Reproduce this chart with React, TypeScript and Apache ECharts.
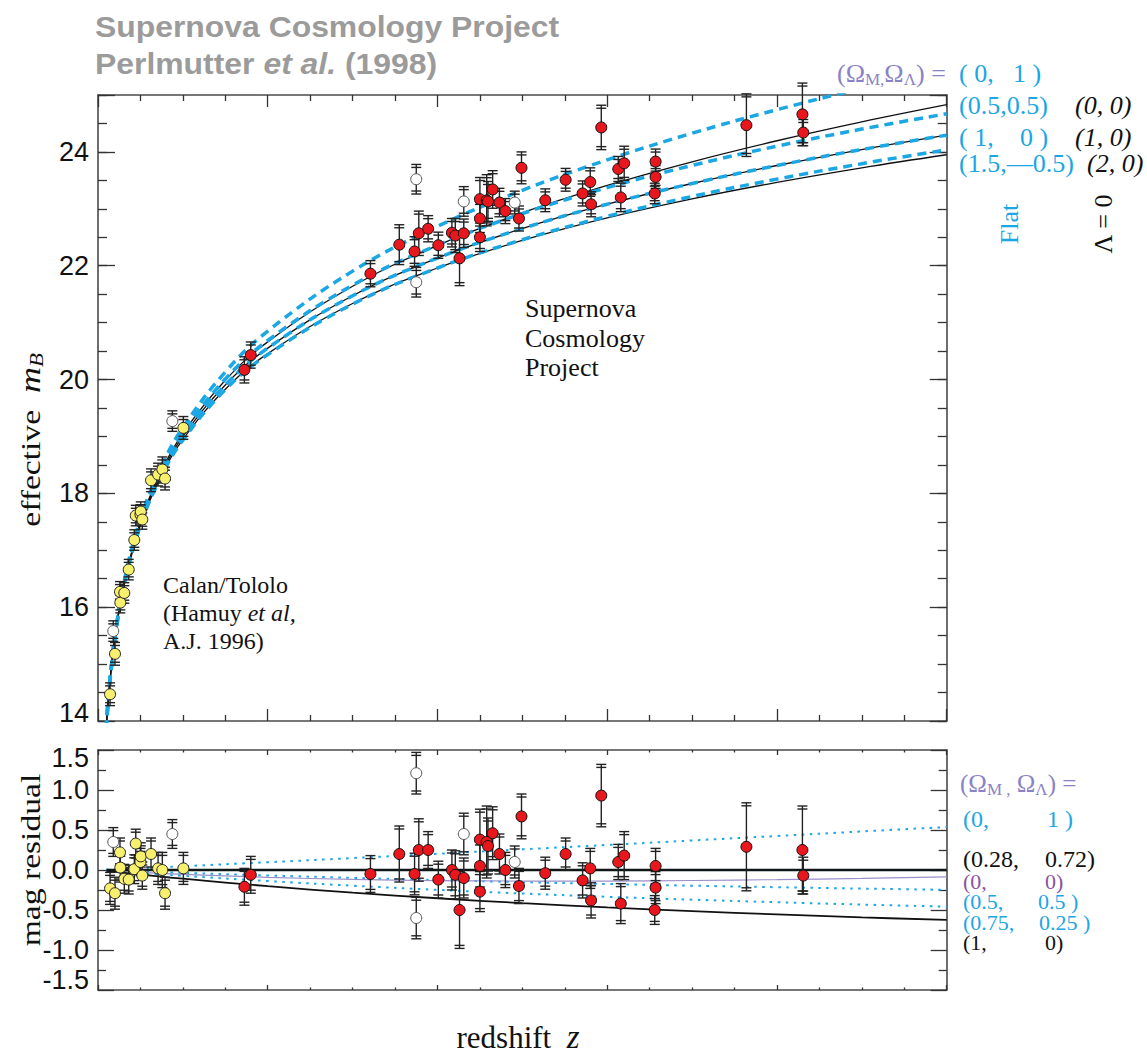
import React, { useEffect, useRef } from 'react';
import * as echarts from 'echarts';

// ---------- data: Calan/Tololo (yellow) ----------
const zCT = [0.0142, 0.0200, 0.0259, 0.0263, 0.0310, 0.0362, 0.0428, 0.0445, 0.0500, 0.0504, 0.0522, 0.0625, 0.0708, 0.0758, 0.0790, 0.1006];
const mCT = [14.47, 15.18, 16.27, 16.08, 16.25, 16.66, 17.18, 17.61, 17.63, 17.68, 17.54, 18.23, 18.33, 18.42, 18.26, 19.15];
const resCT = [-0.23, -0.29, 0.22, 0.03, -0.11, -0.12, 0.01, 0.33, 0.10, 0.17, -0.07, 0.20, 0.02, 0.00, -0.29, 0.02];
const errCT = [0.20, 0.20, 0.18, 0.18, 0.18, 0.18, 0.18, 0.18, 0.17, 0.17, 0.17, 0.20, 0.20, 0.22, 0.20, 0.20];

// excluded low-z (open)
const zCTopen = [0.0180, 0.0876];
const mCTopen = [15.58, 19.27];
const resCTopen = [0.35, 0.45];
const errCTopen = [0.18, 0.18];

// ---------- data: Supernova Cosmology Project (red) ----------
const zSCP = [0.1725, 0.180, 0.321, 0.355, 0.373, 0.378, 0.389, 0.401, 0.417, 0.421, 0.426, 0.431, 0.450, 0.450, 0.450, 0.458, 0.4595, 0.465, 0.473, 0.480, 0.496, 0.499, 0.527, 0.551, 0.571, 0.580, 0.581, 0.593, 0.613, 0.616, 0.620, 0.656, 0.657, 0.657, 0.764, 0.830, 0.831];
const mSCP = [20.17, 20.43, 21.86, 22.37, 22.25, 22.57, 22.65, 22.36, 22.58, 22.53, 22.13, 22.57, 23.17, 22.83, 22.50, 23.15, 23.13, 23.34, 23.11, 22.96, 22.83, 23.72, 23.15, 23.51, 23.27, 23.47, 23.08, 24.43, 23.70, 23.20, 23.80, 23.27, 23.56, 23.83, 24.47, 24.66, 24.34];
const resSCP = [-0.21, -0.06, -0.05, 0.20, -0.05, 0.25, 0.25, -0.12, 0.00, -0.06, -0.50, -0.10, 0.38, 0.05, -0.27, 0.35, 0.30, 0.46, 0.20, 0.00, -0.20, 0.67, -0.04, 0.20, -0.13, 0.02, -0.38, 0.93, 0.10, -0.42, 0.18, -0.50, -0.22, 0.05, 0.29, 0.25, -0.07];
const errSCP = [0.23, 0.23, 0.23, 0.35, 0.26, 0.39, 0.23, 0.23, 0.25, 0.30, 0.48, 0.25, 0.38, 0.30, 0.25, 0.45, 0.35, 0.33, 0.25, 0.22, 0.22, 0.28, 0.20, 0.20, 0.22, 0.25, 0.22, 0.39, 0.22, 0.25, 0.30, 0.18, 0.20, 0.22, 0.55, 0.55, 0.23];

// excluded high-z (open)
const zSCPopen = [0.375, 0.375, 0.431, 0.491];
const mSCPopen = [23.52, 21.71, 23.13, 23.11];
const resSCPopen = [1.21, -0.60, 0.45, 0.10];
const errSCPopen = [0.26, 0.26, 0.26, 0.20];

// ---------- model curves, top panel (effective m_B) ----------
const zModel = [0.0095, 0.012, 0.015, 0.02, 0.03, 0.05, 0.075, 0.1, 0.15, 0.2, 0.3, 0.4, 0.5, 0.6, 0.7, 0.8, 0.9, 1.0];
const m_0_0 = [13.849, 14.359, 14.846, 15.477, 16.368, 17.499, 18.405, 19.056, 19.987, 20.662, 21.639, 22.356, 22.929, 23.410, 23.827, 24.196, 24.528, 24.830];
const m_1_0 = [13.844, 14.352, 14.838, 15.466, 16.352, 17.471, 18.364, 19.001, 19.905, 20.552, 21.473, 22.135, 22.654, 23.081, 23.445, 23.761, 24.042, 24.294];
const m_2_0 = [13.839, 14.346, 14.830, 15.455, 16.336, 17.445, 18.325, 18.950, 19.830, 20.455, 21.336, 21.960, 22.445, 22.841, 23.175, 23.465, 23.721, 23.950];
const m_0_1 = [13.860, 14.372, 14.862, 15.498, 16.400, 17.551, 18.482, 19.157, 20.133, 20.851, 21.905, 22.691, 23.325, 23.861, 24.328, 24.742, 25.115, 25.455];
const m_05_05 = [13.852, 14.362, 14.850, 15.482, 16.376, 17.510, 18.420, 19.075, 20.009, 20.686, 21.658, 22.362, 22.916, 23.373, 23.762, 24.101, 24.401, 24.670];
const m_15_m05 = [13.837, 14.343, 14.826, 15.450, 16.329, 17.435, 18.313, 18.934, 19.821, 20.438, 21.325, 21.960, 22.457, 22.867, 23.217, 23.522, 23.793, 24.036];

// ---------- model curves, residual panel ----------
const zRes = [0.01, 0.05, 0.1, 0.2, 0.3, 0.4, 0.5, 0.6, 0.7, 0.8, 0.9, 1.0];
const r_0_1 = [0.005, 0.023, 0.047, 0.097, 0.149, 0.203, 0.258, 0.313, 0.369, 0.425, 0.482, 0.537];
const r_0_0 = [-0.006, -0.029, -0.054, -0.092, -0.117, -0.132, -0.138, -0.138, -0.131, -0.120, -0.105, -0.087];
const r_05_05 = [-0.004, -0.018, -0.035, -0.068, -0.098, -0.127, -0.152, -0.175, -0.196, -0.215, -0.232, -0.248];
const r_075_025 = [-0.008, -0.037, -0.073, -0.138, -0.196, -0.248, -0.294, -0.335, -0.371, -0.403, -0.432, -0.458];
const r_1_0 = [-0.012, -0.056, -0.109, -0.202, -0.283, -0.353, -0.414, -0.467, -0.514, -0.555, -0.592, -0.624];
const r_028_072 = [0, 0, 0, 0, 0, 0, 0, 0, 0, 0, 0, 0];

const SERIF = '"Liberation Serif", "Times New Roman", serif';
const SANS = '"Liberation Sans", Arial, sans-serif';
const BLUE = '#1ba6e4';
const LAV = '#8a82c6';
const PURP = '#8b52a6';
const RED = '#e8171d';
const YEL = '#f7ef6e';

const pairs = (xs: number[], ys: number[]) => xs.map((x, i) => [x, ys[i]]);
const triples = (xs: number[], ys: number[], es: number[]) => xs.map((x, i) => [x, ys[i], es[i]]);

function renderErr(params: any, api: any) {
  const z = api.value(0);
  const v = api.value(1);
  const e = api.value(2);
  const hi = api.coord([z, v + e]);
  const lo = api.coord([z, v - e]);
  const w = 5;
  const d = 3;
  const st = { stroke: '#222', lineWidth: 1.4 };
  const L = (x1: number, y1: number, x2: number, y2: number) => ({ type: 'line', shape: { x1, y1, x2, y2 }, style: st });
  return {
    type: 'group',
    children: [
      L(hi[0], hi[1], lo[0], lo[1]),
      L(hi[0] - w, hi[1], hi[0] + w, hi[1]),
      L(hi[0] - w, hi[1] + d, hi[0] + w, hi[1] + d),
      L(lo[0] - w, lo[1], lo[0] + w, lo[1]),
      L(lo[0] - w, lo[1] - d, lo[0] + w, lo[1] - d),
    ],
  };
}

const axisLineStyle = { color: '#4a4a4a', width: 1.6 };
const tickStyle = { color: '#333', width: 1.3 };

function xAxisDef(grid: number, position: string, major: number, minor: number) {
  return {
    type: 'value', gridIndex: grid, position, min: 0, max: 1, interval: 0.2,
    axisLine: { show: true, onZero: false, lineStyle: axisLineStyle },
    axisTick: { show: true, inside: true, length: major, lineStyle: tickStyle },
    minorTick: { show: true, splitNumber: 4, length: minor, lineStyle: tickStyle },
    axisLabel: { show: false },
    splitLine: { show: false },
    minorSplitLine: { show: false },
  };
}

const labelBase = { fontFamily: SANS, fontSize: 27, color: '#111' };

function yAxisDef(grid: number, position: string, min: number, max: number, interval: number, tickLen: number, opts: any) {
  return {
    type: 'value', gridIndex: grid, position, min, max, interval,
    axisLine: { show: opts.line, onZero: false, lineStyle: axisLineStyle },
    axisTick: { show: true, inside: true, length: tickLen, lineStyle: tickStyle },
    minorTick: opts.minor ? { show: true, splitNumber: opts.minor, length: opts.minorLen, lineStyle: tickStyle } : { show: false },
    axisLabel: opts.label ? opts.label : { show: false },
    splitLine: { show: false },
    minorSplitLine: { show: false },
  };
}

function lineS(xs: number[], ys: number[], color: string, width: number, type: any, xi: number, yi: number, z: number) {
  return {
    type: 'line', xAxisIndex: xi, yAxisIndex: yi, data: pairs(xs, ys),
    showSymbol: false, symbol: 'none', smooth: 0.4,
    lineStyle: { color, width, type }, z, silent: true, clip: true,
  };
}

function errS(data: number[][], xi: number, yi: number) {
  return {
    type: 'custom', xAxisIndex: xi, yAxisIndex: yi, data, renderItem: renderErr,
    encode: { x: 0, y: 1 }, z: 4, silent: true, clip: false,
  };
}

function dotS(data: number[][], fill: string, border: string, xi: number, yi: number) {
  return {
    type: 'scatter', xAxisIndex: xi, yAxisIndex: yi, data, symbol: 'circle', symbolSize: 11,
    itemStyle: { color: fill, borderColor: border, borderWidth: 1, opacity: 1 }, z: 5, silent: true,
  };
}

function txt(x: number, y: number, text: string, fill: string, size: number, extra: any = {}) {
  return {
    type: 'text', x, y, silent: true,
    style: { text, fill, fontFamily: SERIF, fontSize: size, verticalAlign: 'middle', align: 'left', ...extra },
  };
}

function omegaRich(size: number, color: string) {
  return {
    p: { fontFamily: SERIF, fontSize: size, fill: color, color },
    s: { fontFamily: SERIF, fontSize: Math.round(size * 0.66), fill: color, color, padding: [12, 0, 0, 0] },
  };
}

function buildOption() {
  const topLabel = {
    show: true, margin: 9, ...labelBase,
    formatter: (v: number) => (v === 14 ? '{lo|14}' : v > 24.5 ? '' : String(v)),
    rich: { lo: { ...labelBase, padding: [0, 0, 16, 0] } },
  };
  const botLabel = {
    show: true, margin: 9, ...labelBase, showMinLabel: true, showMaxLabel: true,
    formatter: (v: number) => {
      const s = (Math.abs(v) < 1e-9 ? 0 : v).toFixed(1);
      if (v > 1.49) return '{hi|' + s + '}';
      if (v < -1.49) return '{lo|' + s + '}';
      return s;
    },
    rich: { hi: { ...labelBase, padding: [16, 0, 0, 0] }, lo: { ...labelBase, padding: [0, 0, 20, 0] } },
  };

  const graphics: any[] = [
    {
      type: 'text', x: 95, y: 27, scaleX: 1.1, silent: true,
      style: { text: 'Supernova Cosmology Project', fontFamily: SANS, fontWeight: 'bold', fontSize: 29, fill: '#9b9b9b', verticalAlign: 'middle' },
    },
    {
      type: 'text', x: 95, y: 64, scaleX: 1.1, silent: true,
      style: {
        text: '{n|Perlmutter }{i|et al.}{n| (1998)}', verticalAlign: 'middle',
        rich: {
          n: { fontFamily: SANS, fontWeight: 'bold', fontSize: 29, fill: '#9b9b9b', color: '#9b9b9b' },
          i: { fontFamily: SANS, fontWeight: 'bold', fontStyle: 'italic', fontSize: 29, fill: '#9b9b9b', color: '#9b9b9b' },
        },
      },
    },
    // inner labels
    {
      type: 'text', x: 525, y: 294, silent: true,
      style: { text: 'Supernova\nCosmology\nProject', fontFamily: SERIF, fontSize: 26, lineHeight: 29.5, fill: '#111', verticalAlign: 'top' },
    },
    {
      type: 'text', x: 163, y: 571, silent: true,
      style: {
        text: '{n|Calan/Tololo}\n{n|(Hamuy }{i|et al,}\n{n|A.J. 1996)}', verticalAlign: 'top',
        rich: {
          n: { fontFamily: SERIF, fontSize: 24, lineHeight: 28, fill: '#111', color: '#111' },
          i: { fontFamily: SERIF, fontStyle: 'italic', fontSize: 24, lineHeight: 28, fill: '#111', color: '#111' },
        },
      },
    },
    // axis titles
    {
      type: 'text', x: 30, y: 440, rotation: Math.PI / 2, scaleX: 1.2, silent: true,
      style: {
        text: '{n|effective  }{m|m}{s|B}', align: 'center', verticalAlign: 'middle',
        rich: {
          n: { fontFamily: SERIF, fontSize: 28, fill: '#111', color: '#111' },
          m: { fontFamily: SERIF, fontStyle: 'italic', fontSize: 30, fill: '#111', color: '#111' },
          s: { fontFamily: SERIF, fontStyle: 'italic', fontSize: 19, fill: '#111', color: '#111', padding: [14, 0, 0, 0] },
        },
      },
    },
    {
      type: 'text', x: 30, y: 860, rotation: Math.PI / 2, scaleX: 1.2, silent: true,
      style: { text: 'mag residual', fontFamily: SERIF, fontSize: 28, fill: '#111', align: 'center', verticalAlign: 'middle' },
    },
    {
      type: 'text', x: 518, y: 1037, silent: true,
      style: {
        text: '{n|redshift  }{z|z}', align: 'center', verticalAlign: 'middle',
        rich: {
          n: { fontFamily: SERIF, fontSize: 31, fill: '#111', color: '#111' },
          z: { fontFamily: SERIF, fontStyle: 'italic', fontSize: 33, fill: '#111', color: '#111' },
        },
      },
    },
    // top legend
    txt(837, 73, '{p|(Ω}{s|M,}{p|Ω}{s|Λ}{p|) =}', LAV, 26, { rich: omegaRich(26, LAV) }),
    txt(959, 73, '( 0,', BLUE, 26),
    txt(1013, 73, '1 )', BLUE, 26),
    txt(959, 105, '(0.5,0.5)', BLUE, 26),
    txt(1075, 105, '(0, 0)', '#111', 26, { fontStyle: 'italic' }),
    txt(959, 137, '( 1,', BLUE, 26),
    txt(1020, 137, '0 )', BLUE, 26),
    txt(1075, 137, '(1, 0)', '#111', 26, { fontStyle: 'italic' }),
    txt(959, 163, '(1.5,—0.5)', BLUE, 26),
    txt(1087, 163, '(2, 0)', '#111', 26, { fontStyle: 'italic' }),
    {
      type: 'text', x: 1009, y: 224, rotation: Math.PI / 2, silent: true,
      style: { text: 'Flat', fontFamily: SERIF, fontSize: 26, fill: BLUE, align: 'center', verticalAlign: 'middle' },
    },
    {
      type: 'text', x: 1103, y: 224, rotation: Math.PI / 2, silent: true,
      style: { text: 'Λ = 0', fontFamily: SERIF, fontSize: 26, fill: '#111', align: 'center', verticalAlign: 'middle' },
    },
    // bottom legend
    txt(960, 783, '{p|(Ω}{s|M ,}{p| Ω}{s|Λ}{p|) =}', LAV, 25, { rich: omegaRich(25, LAV) }),
    txt(963, 819, '(0,', BLUE, 24),
    txt(1047, 819, '1 )', BLUE, 24),
    txt(963, 859, '(0.28,', '#111', 24),
    txt(1045, 859, '0.72)', '#111', 24),
    txt(963, 881, '(0,', PURP, 22),
    txt(1045, 881, '0)', PURP, 22),
    txt(963, 901.5, '(0.5,', BLUE, 22),
    txt(1038, 901.5, '0.5 )', BLUE, 22),
    txt(963, 922, '(0.75,', BLUE, 22),
    txt(1039, 922, '0.25 )', BLUE, 22),
    txt(963, 942.5, '(1,', '#111', 22),
    txt(1045, 942.5, '0)', '#111', 22),
  ];

  const dash = [9, 6];
  const dot = [2.5, 5.5];

  return {
    animation: false,
    backgroundColor: '#ffffff',
    grid: [
      { left: 98, top: 95, width: 848.7, height: 626, outerBoundsMode: 'none', containLabel: false },
      { left: 98, top: 750, width: 848.7, height: 240, outerBoundsMode: 'none', containLabel: false },
    ],
    xAxis: [
      xAxisDef(0, 'bottom', 12, 6),
      xAxisDef(0, 'top', 12, 6),
      xAxisDef(1, 'bottom', 5, 2.5),
      xAxisDef(1, 'top', 5, 2.5),
    ],
    yAxis: [
      yAxisDef(0, 'left', 14, 25, 2, 17, { line: true, label: topLabel }),
      yAxisDef(0, 'left', 14, 25, 0.5, 9, { line: false }),
      yAxisDef(0, 'right', 14, 25, 2, 17, { line: true }),
      yAxisDef(0, 'right', 14, 25, 0.5, 9, { line: false }),
      yAxisDef(1, 'left', -1.5, 1.5, 0.5, 16, { line: true, minor: 2, minorLen: 8, label: botLabel }),
      yAxisDef(1, 'right', -1.5, 1.5, 0.5, 16, { line: true, minor: 2, minorLen: 8 }),
    ],
    graphic: graphics,
    series: [
      // top panel models: Lambda = 0 (black) and flat (blue dashed)
      lineS(zModel, m_0_0, '#111', 1.3, 'solid', 0, 0, 2),
      lineS(zModel, m_1_0, '#111', 1.3, 'solid', 0, 0, 2),
      lineS(zModel, m_2_0, '#111', 1.3, 'solid', 0, 0, 2),
      lineS(zModel, m_0_1, BLUE, 3.5, dash, 0, 0, 3),
      lineS(zModel, m_05_05, BLUE, 3.5, dash, 0, 0, 3),
      lineS(zModel, m_1_0, BLUE, 3.5, dash, 0, 0, 3),
      lineS(zModel, m_15_m05, BLUE, 3.5, dash, 0, 0, 3),
      errS(triples(zCT, mCT, errCT), 0, 0),
      errS(triples(zCTopen, mCTopen, errCTopen), 0, 0),
      errS(triples(zSCP, mSCP, errSCP), 0, 0),
      errS(triples(zSCPopen, mSCPopen, errSCPopen), 0, 0),
      dotS(pairs(zCT, mCT), YEL, '#222', 0, 0),
      dotS(pairs(zCTopen, mCTopen), '#ffffff', '#555', 0, 0),
      dotS(pairs(zSCP, mSCP), RED, '#111', 0, 0),
      dotS(pairs(zSCPopen, mSCPopen), '#ffffff', '#555', 0, 0),
      // residual panel models
      lineS(zRes, r_0_1, BLUE, 2, dot, 2, 4, 2),
      lineS(zRes, r_05_05, BLUE, 2, dot, 2, 4, 2),
      lineS(zRes, r_075_025, BLUE, 2, dot, 2, 4, 2),
      lineS(zRes, r_0_0, '#9a90cc', 1.2, 'solid', 2, 4, 2),
      lineS(zRes, r_1_0, '#111', 1.8, 'solid', 2, 4, 2),
      lineS(zRes, r_028_072, '#0d1717', 2.6, 'solid', 2, 4, 3),
      errS(triples(zCT, resCT, errCT), 2, 4),
      errS(triples(zCTopen, resCTopen, errCTopen), 2, 4),
      errS(triples(zSCP, resSCP, errSCP), 2, 4),
      errS(triples(zSCPopen, resSCPopen, errSCPopen), 2, 4),
      dotS(pairs(zCT, resCT), YEL, '#222', 2, 4),
      dotS(pairs(zCTopen, resCTopen), '#ffffff', '#555', 2, 4),
      dotS(pairs(zSCP, resSCP), RED, '#111', 2, 4),
      dotS(pairs(zSCPopen, resSCPopen), '#ffffff', '#555', 2, 4),
    ],
  };
}

export default function App() {
  const ref = useRef<HTMLDivElement>(null);
  useEffect(() => {
    if (!ref.current) return;
    const chart = echarts.init(ref.current, null, { renderer: 'svg' });
    chart.setOption(buildOption() as any);
    return () => chart.dispose();
  }, []);
  return (
    <div
      ref={ref}
      style={{ position: 'absolute', left: 0, top: 0, width: 1147, height: 1055, background: '#fff' }}
    />
  );
}
